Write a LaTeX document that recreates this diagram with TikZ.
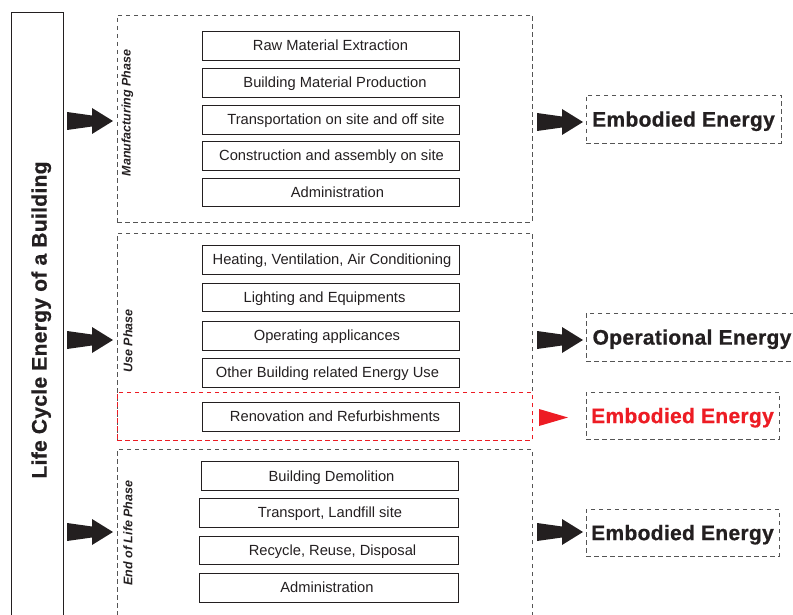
\documentclass[tikz,border=0pt]{standalone}
\usepackage{fontspec}
\setmainfont{Liberation Sans}
\newfontfamily\heavyfont[FakeBold=0.8,LetterSpace=1.5]{Liberation Sans Bold}
\definecolor{ink}{RGB}{35,31,32}
\definecolor{dgrey}{RGB}{85,85,85}
\definecolor{redish}{RGB}{237,28,36}
\begin{document}
\begin{tikzpicture}[x=1pt,y=-1pt,
  itembox/.style={draw=ink, line width=0.9pt, minimum height=29pt, minimum width=257pt, inner sep=0pt, text=ink, text depth=0pt, font=\fontsize{14.7}{17}\selectfont},
  phasebox/.style={draw=dgrey, line width=0.8pt, dash pattern=on 4.5pt off 3.5pt, inner sep=0pt, minimum width=415pt},
  energybox/.style={draw=dgrey, line width=0.8pt, dash pattern=on 4.5pt off 3.5pt, inner sep=0pt, minimum height=48pt, text depth=0pt, font=\fontsize{21}{24}\heavyfont, text=ink},
  phaselabel/.style={rotate=90, font=\fontsize{12.5}{14}\selectfont\bfseries\itshape, text=ink, inner sep=0pt},
  fatarrow/.pic={\fill[ink] (-46,-9) -- (-21,-5.5) -- (-21,-13) -- (0,0) -- (-21,13) -- (-21,5.5) -- (-46,9) -- cycle;}
]
\useasboundingbox (0,0) rectangle (793,615);

% title column
\node[draw=ink, line width=1pt, minimum width=52pt, minimum height=700pt, inner sep=0pt] (titlebox) at (37,363) {};
\node[rotate=90, font=\fontsize{21}{24}\heavyfont, text=ink, inner sep=0pt, text depth=0pt] (title) at (39,320) {Life Cycle Energy of a Building};

% phase containers
\node[phasebox, minimum height=207pt] (mfg) at (324.5,118.5) {};
\node[phasebox, minimum height=207pt] (use) at (324.5,336.5) {};
\node[phasebox, draw=redish, minimum height=48pt] (reno) at (324.5,416) {};
\node[phasebox, minimum height=200pt] (eol) at (324.5,549) {};

% phase labels
\node[phaselabel] (lmfg) at (127.5,113) {Manufacturing Phase};
\node[phaselabel] (luse) at (128,341) {Use Phase};
\node[phaselabel] (leol) at (128,533) {End of Life Phase};

% manufacturing items
\node[itembox] (raw) at (330.5,45.5) {Raw Material Extraction};
\node[itembox] (bmp) at (330.5,82.5) {\hspace*{9pt}Building Material Production};
\node[itembox] (trn) at (330.5,119.5) {\hspace*{11pt}Transportation on site and off site};
\node[itembox] (con) at (330.5,155.5) {\hspace*{2pt}Construction and assembly on site};
\node[itembox, minimum height=28pt] (adm1) at (330.5,192) {\hspace*{14pt}Administration};

% use items
\node[itembox] (hvac) at (330.5,259.5) {\hspace*{3pt}Heating, Ventilation, Air Conditioning};
\node[itembox, minimum height=28pt] (light) at (330.5,297) {Lighting and Equipments\hspace*{12pt}};
\node[itembox] (oper) at (330.5,335.5) {Operating applicances\hspace*{7pt}};
\node[itembox] (other) at (330.5,372.5) {Other Building related Energy Use\hspace*{6pt}};
\node[itembox] (renov) at (330.5,416.5) {\hspace*{9pt}Renovation and Refurbishments};

% end of life items
\node[itembox] (demo) at (329.5,476) {\hspace*{4pt}Building Demolition};
\node[itembox, minimum width=259pt] (land) at (328.5,512.5) {\hspace*{3pt}Transport, Landfill site};
\node[itembox, minimum width=259pt, minimum height=28pt] (recy) at (328.5,550) {\hspace*{8pt}Recycle, Reuse, Disposal};
\node[itembox, minimum width=259pt] (adm2) at (328.5,587.5) {Administration\hspace*{3pt}};

% energy boxes
\node[energybox, minimum width=195pt] (emb1) at (683.5,119) {Embodied Energy};
\node[energybox, minimum width=212pt] (opE) at (692,337) {Operational Energy};
\node[energybox, minimum width=193pt, minimum height=47pt, text=redish] (emb2) at (682.5,415.5) {Embodied Energy};
\node[energybox, minimum width=193pt, minimum height=47pt] (emb3) at (682.5,532.5) {Embodied Energy};

% arrows
\pic at (113,121) {fatarrow};
\pic at (113,340) {fatarrow};
\pic at (113,532) {fatarrow};
\pic at (583,122) {fatarrow};
\pic at (583,340) {fatarrow};
\pic at (583,532) {fatarrow};
\fill[redish] (539,409) -- (568,417.5) -- (539,426) -- cycle;
\end{tikzpicture}
\end{document}
